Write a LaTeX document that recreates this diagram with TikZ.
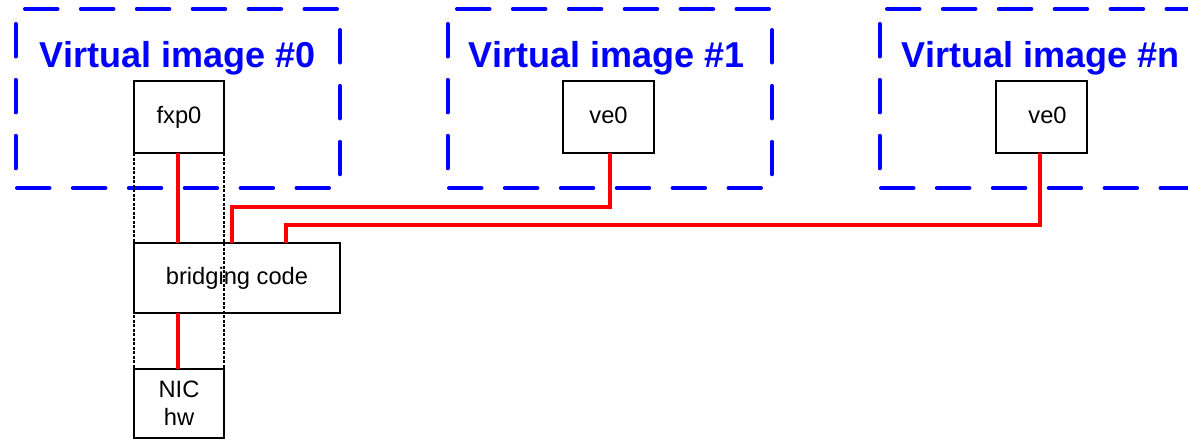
\documentclass[tikz,border=0pt]{standalone}
\usepackage{fontspec}
\setmainfont{Liberation Sans}
\begin{document}
\begin{tikzpicture}[x=1pt,y=-1pt,
  frame/.style={draw=blue,line width=4pt,dash pattern=on 32.5pt off 23.4pt,line cap=round},
  title/.style={text=blue,font=\fontsize{36}{40}\selectfont\bfseries,anchor=base,inner sep=0pt},
  boxbase/.style={draw=black,line width=2pt,inner sep=0pt,outer sep=0pt,font=\fontsize{23.7}{28.4}\selectfont},
  box/.style={boxbase,text height=17pt,text depth=5pt},
  wire/.style={draw=red,line width=3.6pt},
  guide/.style={draw=black,line width=1.3pt,dash pattern=on 3pt off 1.5pt}]
\useasboundingbox (0,0) rectangle (1188,439);
\clip (0,0) rectangle (1188,439);
% frame #0
\draw[frame] (25,9) -- (338,9);
\draw[frame] (15.5,24) -- (15.5,172);
\draw[frame] (17,188) -- (333,188);
\draw[frame] (340,30) -- (340,176);
% frame #1
\draw[frame] (457,9) -- (770,9);
\draw[frame] (447.5,24) -- (447.5,172);
\draw[frame] (449,188) -- (763,188);
\draw[frame] (772,30) -- (772,176);
% frame #n
\draw[frame] (887,9) -- (1210,9);
\draw[frame] (879.5,24) -- (879.5,172);
\draw[frame] (881,188) -- (1210,188);
% titles
\node[title] (t0) at (177.5,67) {Virtual image \#0};
\node[title] (t1) at (606.5,67) {Virtual image \#1};
\node[title] (tn) at (1040.5,67) {Virtual image \#n};
% boxes
\node[box,minimum width=90pt,minimum height=72pt] (fxp) at (179,117) {fxp0};
\node[box,minimum width=91pt,minimum height=72pt] (ve1) at (608.5,117) {ve0};
\node[box,minimum width=91pt,minimum height=72pt] (ven) at (1041.5,117) {\hspace*{12pt}ve0};
\node[box,minimum width=206pt,minimum height=70pt] (bridge) at (237,278) {bridging code};
\node[boxbase,align=center,minimum width=90pt,minimum height=69pt] (nic) at (179,403.5) {NIC\\hw};
% dotted guides
\draw[guide] (fxp.south west) -- (nic.north west);
\draw[guide] (fxp.south east) -- (nic.north east);
% wires
\draw[wire] ([xshift=-1pt]fxp.south) -- ([xshift=-1pt]fxp.south |- bridge.north);
\draw[wire] ([xshift=-1pt]nic.north |- bridge.south) -- ([xshift=-1pt]nic.north);
\coordinate (j1) at (232,207);
\coordinate (jn) at (286,225);
\draw[wire] ([xshift=1.5pt]ve1.south) |- (j1) -- (j1 |- bridge.north);
\draw[wire] ([xshift=-1.5pt]ven.south) |- (jn) -- (jn |- bridge.north);
\end{tikzpicture}
\end{document}
